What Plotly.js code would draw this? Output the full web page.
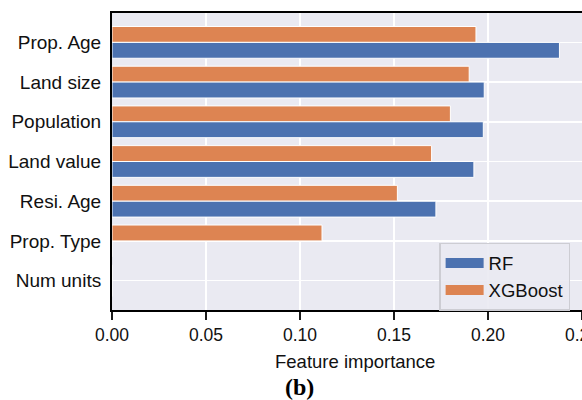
<!DOCTYPE html>
<html>
<head>
<meta charset="utf-8">
<script src="https://cdn.plot.ly/plotly-3.0.1.min.js"></script>
<style>html,body{margin:0;padding:0;background:#fff;}#chart{width:582px;height:400px;}</style>
</head>
<body>
<div id="chart"></div>
<script>
const features = ["Prop. Age", "Land size", "Population", "Land value", "Resi. Age", "Prop. Type", "Num units"];
const rfValues = [0.238, 0.198, 0.1975, 0.1925, 0.1723, 0.0, 0.0];
const xgbValues = [0.1936, 0.190, 0.180, 0.170, 0.1518, 0.1117, 0.0];
const xTicks = [0, 0.05, 0.10, 0.15, 0.20, 0.25];
const xTickText = ["0.00", "0.05", "0.10", "0.15", "0.20", "0.25"];

const blue = "#4C72B0", orange = "#DD8452";
const font = "Liberation Sans, Arial, sans-serif";

const traces = [
  {type: "bar", orientation: "h", name: "XGBoost", y: features, x: xgbValues,
   width: 0.4, offset: -0.4, marker: {color: orange, line: {color: "#ffffff", width: 1}},
   showlegend: false, hoverinfo: "x+y"},
  {type: "bar", orientation: "h", name: "RF", y: features, x: rfValues,
   width: 0.4, offset: 0, marker: {color: blue, line: {color: "#ffffff", width: 1}},
   showlegend: false, hoverinfo: "x+y"},
  {type: "scatter", mode: "lines", name: "RF", x: [null], y: [null],
   line: {color: blue, width: 12}, showlegend: true},
  {type: "scatter", mode: "lines", name: "XGBoost", x: [null], y: [null],
   line: {color: orange, width: 12}, showlegend: true}
];

const layout = {
  width: 582, height: 400,
  margin: {l: 112, r: 0, t: 13, b: 90, pad: 0},
  paper_bgcolor: "#ffffff", plot_bgcolor: "#EAEAF2",
  barmode: "overlay",
  font: {family: font, color: "#111111", size: 17},
  xaxis: {
    range: [0, 0.25], tickvals: xTicks, ticktext: xTickText,
    ticklabeloverflow: "allow",
    showgrid: true, gridcolor: "#ffffff", gridwidth: 1.5,
    zeroline: false, showline: true, linecolor: "#000000", linewidth: 2, mirror: true,
    ticks: "outside", ticklen: 8, tickwidth: 1.5, tickcolor: "#1a1a1a",
    tickfont: {size: 17.5, family: font, color: "#111111"}, fixedrange: true
  },
  yaxis: {
    type: "category", categoryorder: "array", categoryarray: features,
    range: [6.74, -0.74],
    showgrid: true, gridcolor: "#ffffff", gridwidth: 1.5,
    zeroline: false, showline: true, linecolor: "#000000", linewidth: 2, mirror: false,
    ticks: "", ticklabelstandoff: 5,
    tickfont: {size: 19, family: font, color: "#111111"}, fixedrange: true
  },
  legend: {
    x: 0.696, y: 0.226, xanchor: "left", yanchor: "top",
    bgcolor: "rgba(234,234,242,0.9)", bordercolor: "#CDCDD3", borderwidth: 1.5,
    font: {size: 18.5, family: font, color: "#111111"},
    itemwidth: 38, tracegroupgap: 0
  },
  annotations: [
    {text: "Feature importance", xref: "paper", yref: "paper",
     x: (355 - 112) / 470, y: -(361 - 310) / 297, xanchor: "center", yanchor: "middle",
     showarrow: false, font: {size: 18.5, family: font, color: "#111111"}},
    {text: "<b>(b)</b>", xref: "paper", yref: "paper",
     x: (299 - 112) / 470, y: -(387 - 310) / 297, xanchor: "center", yanchor: "middle",
     showarrow: false, font: {size: 24, family: "Liberation Serif, Times New Roman, serif", color: "#000000"}}
  ]
};

Plotly.newPlot("chart", traces, layout, {displayModeBar: false, staticPlot: true});
</script>
</body>
</html>
